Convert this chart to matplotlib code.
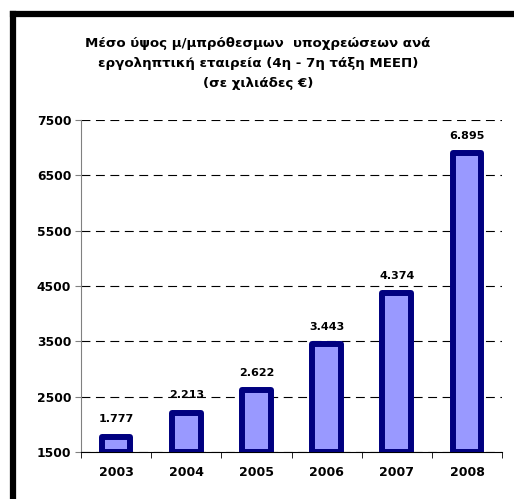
import numpy as np
import matplotlib.pyplot as plt
from matplotlib.lines import Line2D

# data
years = ["2003", "2004", "2005", "2006", "2007", "2008"]
values = [1777, 2213, 2622, 3443, 4374, 6895]
value_labels = ["1.777", "2.213", "2.622", "3.443", "4.374", "6.895"]
y_ticks = [1500, 2500, 3500, 4500, 5500, 6500, 7500]

title = ("Μέσο ύψος μ/μπρόθεσμων  υποχρεώσεων ανά\n"
         "εργοληπτική εταιρεία (4η - 7η τάξη ΜΕΕΠ)\n"
         "(σε χιλιάδες €)")

plt.rcParams['font.family'] = ['DejaVu Sans']

fig = plt.figure(figsize=(5.14, 4.99), dpi=100)
ax = fig.add_axes([0.1576, 0.0942, 0.8191, 0.6653])

x = np.arange(len(years))
base = y_ticks[0]
heights = [v - base for v in values]
bars = ax.bar(x, heights, bottom=base, width=0.41, color="#9999FF",
              edgecolor="#000080", linewidth=4.3, zorder=3)
for b in bars:
    b.set_joinstyle("round")

for xi, v, lab in zip(x, values, value_labels):
    ax.annotate(lab, (xi, v), xytext=(0, 12.5), textcoords="offset points",
                ha="center", va="center", fontsize=8, fontweight="bold",
                zorder=4)

ax.set_xlim(-0.5, len(years) - 0.5)
ax.set_ylim(1500, 7500)
ax.set_yticks(y_ticks)
ax.set_yticklabels([str(t) for t in y_ticks], fontsize=8.8, fontweight="bold")
ax.set_xticks(x)
ax.set_xticklabels(years, fontsize=9, fontweight="bold")
ax.set_xticks(np.arange(-0.5, len(years)), minor=True)
ax.tick_params(axis="x", which="major", length=0, pad=10)
ax.tick_params(axis="x", which="minor", length=4, color="black", direction="out")
ax.tick_params(axis="y", length=4, color="#808080", pad=3)

ax.yaxis.grid(True, linestyle=(0, (8, 5)), color="black", linewidth=0.8, zorder=0)
ax.set_axisbelow(True)

ax.spines["top"].set_visible(False)
ax.spines["right"].set_visible(False)
ax.spines["left"].set_color("#808080")
ax.spines["bottom"].set_color("black")

fig.text(0.502, 0.925, title, ha="center", va="top", fontsize=9.6,
         fontweight="bold", linespacing=1.66)

# thick black frame on the left and top
fig.add_artist(Line2D([13 / 514, 13 / 514], [0, 1 - 14 / 499],
                      color="black", linewidth=4.5, solid_capstyle="projecting"))
fig.add_artist(Line2D([13 / 514, 1], [1 - 14 / 499, 1 - 14 / 499],
                      color="black", linewidth=4.5, solid_capstyle="projecting"))

fig.savefig("out.png", dpi=100)
